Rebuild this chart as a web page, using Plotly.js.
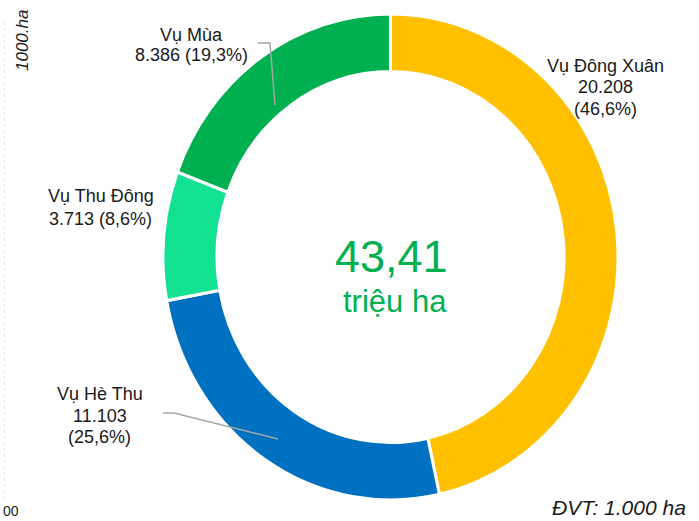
<!DOCTYPE html>
<html>
<head>
<meta charset="utf-8">
<script src="https://cdn.plot.ly/plotly-3.0.1.min.js"></script>
<style>
  html, body { margin: 0; padding: 0; background: #ffffff; }
  #chart { width: 699px; height: 521px; }
</style>
</head>
<body>
<div id="chart"></div>
<script>
// ---- data ----
var seasons = ["Vụ Đông Xuân", "Vụ Hè Thu", "Vụ Thu Đông", "Vụ Mùa"];
var areas = [20208, 11103, 3713, 8386];          // 1000 ha
var colors = ["#FFC000", "#0070C0", "#12E193", "#00B050"];
var totalLabel = "43,41";
var totalUnit = "triệu ha";
var unitNote = "ĐVT: 1.000 ha";
var axisNote = "1000.ha";
var cornerTick = "00";

// ---- helpers ----
var W = 699, H = 521;
function px(x) { return x / W; }
function py(y) { return 1 - y / H; }
function fmtInt(v) { return String(v).replace(/\B(?=(\d{3})+(?!\d))/g, "."); }
var total = areas.reduce(function (a, b) { return a + b; }, 0);
function fmtPct(v) { return "(" + (v / total * 100).toFixed(1).replace(".", ",") + "%)"; }

var FONT = "Liberation Sans, Arial, sans-serif";

// label layout: per season lines + positions (px)
var labelLayout = [
  { cx: 605, ys: [65.5, 87, 108.5], split: true },
  { cx: 99.5, ys: [393.5, 415.5, 437], split: true },
  { cx: 100.5, ys: [196.5, 218.5], split: false },
  { cx: 191, ys: [35, 55.5], split: false }
];

var annotations = [];
seasons.forEach(function (name, i) {
  var L = labelLayout[i];
  var lines = L.split
    ? [name, fmtInt(areas[i]), fmtPct(areas[i])]
    : [name, fmtInt(areas[i]) + " " + fmtPct(areas[i])];
  lines.forEach(function (t, j) {
    annotations.push({
      text: t, xref: "paper", yref: "paper",
      x: px(L.cx), y: py(L.ys[j]), xanchor: "center", yanchor: "middle",
      showarrow: false, font: { family: FONT, size: 18, color: "#1a1a1a" }
    });
  });
});

annotations.push({
  text: totalLabel, xref: "paper", yref: "paper",
  x: px(391.5), y: py(257), xanchor: "center", yanchor: "middle",
  showarrow: false, font: { family: FONT, size: 45, color: "#00B050" }
});
annotations.push({
  text: totalUnit, xref: "paper", yref: "paper",
  x: px(395), y: py(301), xanchor: "center", yanchor: "middle",
  showarrow: false, font: { family: FONT, size: 31, color: "#00B050" }
});
annotations.push({
  text: "<i>" + unitNote + "</i>", xref: "paper", yref: "paper",
  x: px(688), y: 0, xanchor: "right", yanchor: "bottom",
  showarrow: false, font: { family: FONT, size: 21, color: "#1a1a1a" }
});
annotations.push({
  text: "<i>" + axisNote + "</i>", xref: "paper", yref: "paper",
  x: px(23), y: py(41), xanchor: "center", yanchor: "middle", textangle: -90,
  showarrow: false, font: { family: FONT, size: 17, color: "#1a1a1a" }
});
annotations.push({
  text: cornerTick, xref: "paper", yref: "paper",
  x: px(1), y: 0, xanchor: "left", yanchor: "bottom",
  showarrow: false, font: { family: FONT, size: 14, color: "#1a1a1a" }
});

function pathPx(pts) {
  return pts.map(function (p, k) {
    return (k ? "L" : "M") + px(p[0]) + "," + py(p[1]);
  }).join(" ");
}

var shapes = [
  { type: "path", xref: "paper", yref: "paper",
    path: pathPx([[258, 43], [270, 43], [275, 105]]),
    line: { color: "#A6A6A6", width: 1.5 } },
  { type: "path", xref: "paper", yref: "paper",
    path: pathPx([[163, 413], [174, 413], [278, 439]]),
    line: { color: "#A6A6A6", width: 1.5 } },
  { type: "line", xref: "paper", yref: "paper",
    x0: px(4.5), x1: px(4.5), y0: py(22), y1: py(500),
    line: { color: "#E8E8E8", width: 1, dash: "dot" } }
];

var trace = {
  type: "pie",
  labels: seasons,
  values: areas,
  hole: 0.763,
  sort: false,
  direction: "clockwise",
  rotation: 0,
  textinfo: "none",
  hoverinfo: "skip",
  marker: { colors: colors, line: { color: "#ffffff", width: 3 } },
  domain: { x: [163 / W, 618 / W], y: [36.5 / H, 491.5 / H] },
  showlegend: false
};

var layout = {
  width: W, height: H,
  margin: { l: 0, r: 0, t: 0, b: 0 },
  paper_bgcolor: "#ffffff",
  plot_bgcolor: "#ffffff",
  showlegend: false,
  annotations: annotations,
  shapes: shapes,
  font: { family: FONT }
};

var gd = document.getElementById("chart");
Plotly.newPlot(gd, [trace], layout, { staticPlot: true, displayModeBar: false }).then(function () {
  // the reference ring is slightly taller than wide: stretch vertically about its centre
  var cd0 = gd.calcdata[0][0];
  var cy = cd0.cy;
  var k = 243 / 227.5;
  var tr = gd.querySelector(".pielayer .trace");
  if (tr) {
    tr.setAttribute("transform", "translate(0," + cy + ") scale(1," + k + ") translate(0," + (-cy) + ")");
  }
});
</script>
</body>
</html>
